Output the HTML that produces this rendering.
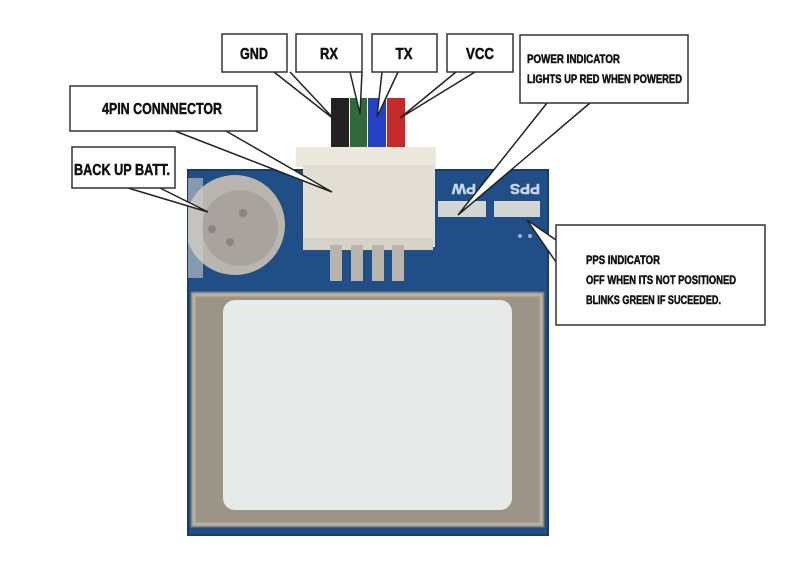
<!DOCTYPE html>
<html><head><meta charset="utf-8"><style>
html,body{margin:0;padding:0;background:#fff;}
svg{display:block}
text{font-family:"Liberation Sans",sans-serif;font-weight:bold;fill:#111;stroke:#111;stroke-width:0.5}
</style></head><body>
<svg width="800" height="571" viewBox="0 0 800 571">
<rect x="188" y="170" width="360" height="365" fill="#1f4f86"/>
<rect x="188" y="170" width="360" height="365" fill="none" stroke="#173d6b" stroke-width="2"/>
<clipPath id="bc"><rect x="188" y="170" width="120" height="120"/></clipPath>
<g clip-path="url(#bc)">
<circle cx="235" cy="225" r="50" fill="#b9b6b0"/>
<circle cx="240" cy="228" r="38" fill="#a8a49d"/>
<circle cx="212" cy="229" r="4" fill="#8a867f"/>
<circle cx="230" cy="242" r="4" fill="#8a867f"/>
<circle cx="243" cy="213" r="4" fill="#8a867f"/>
</g>
<rect x="188" y="178" width="15" height="100" fill="#ccc" opacity="0.6"/>
<rect x="191" y="292" width="353" height="235" fill="#9c9586" stroke="#777" stroke-width="1"/>
<rect x="194" y="295" width="347" height="229" fill="none" stroke="#b7b1a4" stroke-width="3"/>
<rect x="223" y="300" width="289" height="210" rx="12" fill="#e6eae8"/>
<rect x="331" y="98" width="18" height="50" fill="#222"/>
<rect x="350" y="98" width="17" height="50" fill="#2f6a3a"/>
<rect x="368" y="98" width="18" height="50" fill="#2740c8"/>
<rect x="387" y="98" width="18" height="50" fill="#c52a2a"/>
<rect x="296" y="147" width="140" height="20" fill="#ece8de"/>
<rect x="303" y="165" width="132" height="82" fill="#e2ded4"/>
<rect x="303" y="238" width="130" height="12" fill="#d6d2c8"/>
<g fill="#b8b4ac">
<rect x="330" y="245" width="12" height="36"/><rect x="351" y="245" width="12" height="36"/>
<rect x="372" y="245" width="12" height="36"/><rect x="392" y="245" width="12" height="36"/>
</g>
<text x="448" y="196" font-size="15" style="fill:#c9d6ea;stroke:#c9d6ea" transform="rotate(180 462 190)">PW</text>
<text x="500" y="196" font-size="15" style="fill:#c9d6ea;stroke:#c9d6ea" transform="rotate(180 520 190)">PPS</text>
<rect x="438" y="201" width="48" height="16" fill="#d4d6d4"/>
<rect x="494" y="201" width="46" height="16" fill="#d4d6d4"/>
<circle cx="520" cy="236" r="2" fill="#9fb2cc"/><circle cx="530" cy="236" r="2" fill="#9fb2cc"/>
<g fill="#fff" stroke="#222" stroke-width="1.5" stroke-linejoin="miter">
<polyline points="274,72 335,120 290,72"/>
<polyline points="350,72 360,114 362,72"/>
<polyline points="382,72 377,117 398,72"/>
<polyline points="456,72 400,118 475,72"/>
<polyline points="547,103 458,215 590,103"/>
<polyline points="556,240 527,220 556,262"/>
<polyline points="175,131 332,192 226,131"/>
<polyline points="128,188 208,212 160,188"/>
</g>
<g fill="#fff" stroke="#333" stroke-width="1.5">
<rect x="222" y="34" width="65" height="38"/>
<rect x="296" y="34" width="66" height="38"/>
<rect x="372" y="34" width="65" height="38"/>
<rect x="447" y="34" width="66" height="38"/>
<rect x="520" y="35" width="168" height="68"/>
<rect x="556" y="225" width="209" height="100"/>
<rect x="70" y="86" width="187" height="45"/>
<rect x="72" y="147" width="103" height="41"/>
</g>
<g font-size="16" text-anchor="middle">
<text x="254" y="59" textLength="28" lengthAdjust="spacingAndGlyphs">GND</text>
<text x="329" y="59" textLength="18" lengthAdjust="spacingAndGlyphs">RX</text>
<text x="404" y="59" textLength="17" lengthAdjust="spacingAndGlyphs">TX</text>
<text x="480" y="59" textLength="28" lengthAdjust="spacingAndGlyphs">VCC</text>
<text x="162" y="114" textLength="120" lengthAdjust="spacingAndGlyphs">4PIN CONNNECTOR</text>
<text x="122" y="175" textLength="96" lengthAdjust="spacingAndGlyphs">BACK UP BATT.</text>
</g>
<g font-size="12">
<text x="527" y="63" textLength="93" lengthAdjust="spacingAndGlyphs">POWER INDICATOR</text>
<text x="527" y="83" textLength="155" lengthAdjust="spacingAndGlyphs">LIGHTS UP RED WHEN POWERED</text>
<text x="586" y="264" textLength="74" lengthAdjust="spacingAndGlyphs">PPS INDICATOR</text>
<text x="586" y="284" textLength="150" lengthAdjust="spacingAndGlyphs">OFF WHEN ITS NOT POSITIONED</text>
<text x="586" y="304" textLength="135" lengthAdjust="spacingAndGlyphs">BLINKS GREEN IF SUCEEDED.</text>
</g>
</svg>
</body></html>
